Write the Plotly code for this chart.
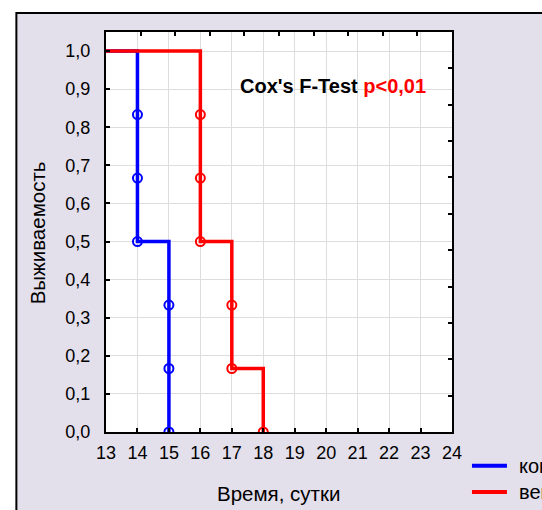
import plotly.graph_objects as go

# Kaplan-Meier style survival curves (step outlines)
control_step_t = [13, 14, 15]
control_step_s = [1.0, 0.5, 0.0]
treated_step_t = [13, 16, 17, 18]
treated_step_s = [1.0, 0.5, 0.1667, 0.0]

# individual event markers
control_evt_t = [14, 14, 14, 15, 15, 15]
control_evt_s = [0.8333, 0.6667, 0.5, 0.3333, 0.1667, 0.0]
treated_evt_t = [16, 16, 16, 17, 17, 18]
treated_evt_s = [0.8333, 0.6667, 0.5, 0.3333, 0.1667, 0.0]

series_names = ["контроль", "вещество"]
series_colors = ["#0000FF", "#FF0000"]

x_ticks = list(range(13, 25))
y_ticks = [i / 10 for i in range(0, 11)]
y_tick_text = [f"{v:.1f}".replace(".", ",") for v in y_ticks]

W, H = 542, 510
L, R, T, B = 105.7, 452.0, 32.0, 432.0
pw, ph = R - L, B - T


def px(x):
    return (x - L) / pw


def py(y):
    return (B - y) / ph


FONT = "Liberation Sans, Arial, sans-serif"
BG = "#E3DFEB"

fig = go.Figure()

for t, s, et, es, name, col in [
    (control_step_t, control_step_s, control_evt_t, control_evt_s, series_names[0], series_colors[0]),
    (treated_step_t, treated_step_s, treated_evt_t, treated_evt_s, series_names[1], series_colors[1]),
]:
    fig.add_trace(go.Scatter(x=t, y=s, mode="lines", line=dict(color=col, width=3.5, shape="hv"),
                             name=name, showlegend=False))
    fig.add_trace(go.Scatter(x=et, y=es, mode="markers",
                             marker=dict(symbol="circle-open", size=9, color=col, line=dict(width=2, color=col)),
                             showlegend=False))

# secondary axes carry the extra tick marks on top and right
fig.add_trace(go.Scatter(x=[None], y=[None], xaxis="x2", yaxis="y2", showlegend=False))

fig.update_layout(
    width=W, height=H,
    margin=dict(l=L, r=W - R, t=T, b=H - B, pad=0),
    paper_bgcolor="white",
    plot_bgcolor="white",
    font=dict(family=FONT, size=17, color="black"),
    xaxis=dict(range=[13, 24], tickvals=x_ticks, ticks="inside", ticklen=4, tickwidth=2,
               tickcolor="black", showline=True, linewidth=2, linecolor="black", mirror=True,
               showgrid=True, gridcolor="#DDDDDD", gridwidth=1, zeroline=False,
               ticklabelstandoff=3, tickfont=dict(size=18)),
    yaxis=dict(range=[0, 1.05], tickvals=y_ticks, ticktext=y_tick_text, ticks="inside", ticklen=4,
               tickwidth=2, tickcolor="black", showline=True, linewidth=2, linecolor="black",
               mirror=True, showgrid=True, gridcolor="#DDDDDD", gridwidth=1, zeroline=False,
               ticklabelstandoff=10, tickfont=dict(size=18)),
    xaxis2=dict(range=[0, 10], overlaying="x", side="top", tickvals=list(range(1, 10)),
                ticks="inside", ticklen=4, tickwidth=2, tickcolor="black", showticklabels=False,
                showgrid=False, zeroline=False, showline=False),
    yaxis2=dict(range=[0, 11], overlaying="y", side="right", tickvals=list(range(1, 11)),
                ticks="inside", ticklen=4, tickwidth=2, tickcolor="black", showticklabels=False,
                showgrid=False, zeroline=False, showline=False),
    showlegend=False,
)

shapes = [
    # outer panel with black frame
    dict(type="rect", xref="paper", yref="paper", layer="below",
         x0=px(16), x1=px(600), y0=py(560), y1=py(13),
         fillcolor=BG, line=dict(color="black", width=2)),
    # white plotting area
    dict(type="rect", xref="paper", yref="paper", layer="below",
         x0=0, x1=1, y0=0, y1=1, fillcolor="white", line=dict(width=0)),
]
# legend swatches
for yy, col in [(465.7, series_colors[0]), (492.0, series_colors[1])]:
    shapes.append(dict(type="line", xref="paper", yref="paper",
                       x0=px(472), x1=px(507), y0=py(yy), y1=py(yy),
                       line=dict(color=col, width=4)))
fig.update_layout(shapes=shapes)

annotations = [
    dict(text="<b>Cox's F-Test <span style='color:#FF0000'>p&lt;0,01</span></b>",
         xref="paper", yref="paper", x=px(238), y=py(86), xanchor="left", yanchor="middle",
         showarrow=False, font=dict(size=20, color="black")),
    dict(text="Время, сутки", xref="paper", yref="paper", x=px(278.5), y=py(493),
         xanchor="center", yanchor="middle", showarrow=False, font=dict(size=20.5)),
    dict(text="Выживаемость", xref="paper", yref="paper", x=px(38), y=py(233),
         xanchor="center", yanchor="middle", textangle=-90, showarrow=False, font=dict(size=20.5)),
]
for yy, name in [(465.7, series_names[0]), (492.0, series_names[1])]:
    annotations.append(dict(text=name, xref="paper", yref="paper", x=px(517), y=py(yy),
                            xanchor="left", yanchor="middle", showarrow=False, font=dict(size=20)))
fig.update_layout(annotations=annotations)

fig.write_html("out.html")
